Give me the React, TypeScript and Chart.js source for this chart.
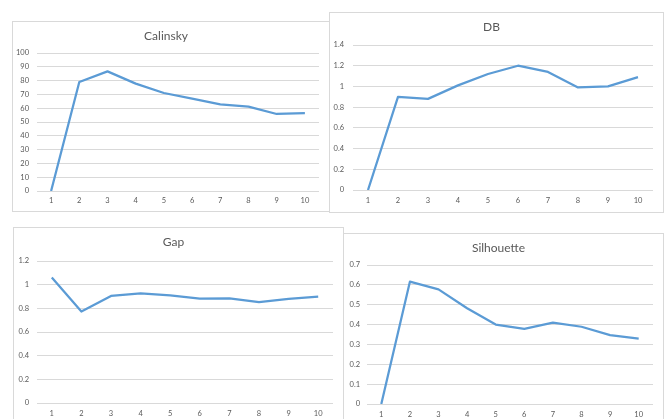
import React, { useEffect, useRef } from "react";
import { Chart, registerables } from "chart.js";

Chart.register(...registerables);

const categories = ["1", "2", "3", "4", "5", "6", "7", "8", "9", "10"];
const calinsky = [0, 79, 86.7, 77.8, 71, 67, 62.7, 61.2, 55.8, 56.4];
const db = [0, 0.9, 0.88, 1.01, 1.12, 1.2, 1.14, 0.99, 1.0, 1.09];
const gap = [1.06, 0.773, 0.905, 0.927, 0.91, 0.882, 0.885, 0.852, 0.88, 0.899];
const silhouette = [0, 0.616, 0.577, 0.482, 0.4, 0.378, 0.41, 0.389, 0.347, 0.329];

const titles = ["Calinsky", "DB", "Gap", "Silhouette"];
const yMax = [100, 1.4, 1.2, 0.7];
const yStep = [10, 0.2, 0.2, 0.1];
const seriesList = [calinsky, db, gap, silhouette];

const LINE = "#5B9BD5";
const GRID = "#D9D9D9";
const TEXT = "#595959";
const FONT = "Lato, 'Liberation Sans', sans-serif";
const TICK_SIZE = 7.5;
const TITLE_SIZE = 12;

type Layout = {
  box: { x: number; y: number; w: number; h: number };
  plot: { l: number; t: number; r: number; b: number };
  titleY: number;
  labelRight: number;
  xLabelY: number;
};

const layouts: Layout[] = [
  { box: { x: 12, y: 21, w: 318, h: 191 }, plot: { l: 37, t: 53, r: 319, b: 191 }, titleY: 36, labelRight: 29, xLabelY: 201 },
  { box: { x: 329, y: 12, w: 335, h: 201 }, plot: { l: 353, t: 45, r: 653, b: 190 }, titleY: 27, labelRight: 344, xLabelY: 201 },
  { box: { x: 13, y: 227, w: 331, h: 220 }, plot: { l: 37, t: 261, r: 333, b: 403 }, titleY: 242, labelRight: 29, xLabelY: 414 },
  { box: { x: 343, y: 233, w: 321, h: 220 }, plot: { l: 367, t: 265, r: 653, b: 404 }, titleY: 248, labelRight: 360, xLabelY: 415 },
];

function Panel({ idx }: { idx: number }) {
  const ref = useRef<HTMLCanvasElement | null>(null);
  const L = layouts[idx];
  const cx = L.box.x + 1;
  const cy = L.box.y + 1;
  const cw = L.box.w - 2;
  const ch = L.box.h - 2;

  useEffect(() => {
    if (!ref.current) return;
    const tickLH = TICK_SIZE * 1.2;
    const titleLH = TITLE_SIZE * 1.2;
    const xAxisH = 20;
    const padTop = L.titleY - cy - titleLH / 2;
    const padBottom = L.plot.t - cy - titleLH - padTop;
    const chart = new Chart(ref.current, {
      type: "line",
      data: {
        labels: categories,
        datasets: [
          {
            data: seriesList[idx],
            borderColor: LINE,
            borderWidth: 2.25,
            pointRadius: 0,
            tension: 0,
            fill: false,
            borderJoinStyle: "round",
          },
        ],
      },
      options: {
        responsive: false,
        animation: false,
        events: [],
        layout: {
          padding: {
            left: 0,
            top: 0,
            right: cw - (L.plot.r - cx),
            bottom: ch - xAxisH - (L.plot.b - cy),
          },
        },
        plugins: {
          legend: { display: false },
          tooltip: { enabled: false },
          title: {
            display: true,
            text: titles[idx],
            color: TEXT,
            font: { family: FONT, size: TITLE_SIZE, weight: "normal", lineHeight: 1.2 },
            padding: { top: padTop, bottom: padBottom },
          },
        },
        scales: {
          x: {
            type: "category",
            offset: true,
            grid: { display: false, drawTicks: false },
            border: { display: false },
            ticks: {
              color: TEXT,
              font: { family: FONT, size: TICK_SIZE, lineHeight: 1.2 },
              padding: L.xLabelY - L.plot.b - tickLH / 2,
              maxRotation: 0,
              autoSkip: false,
            },
            afterFit: (s: any) => {
              s.height = xAxisH;
            },
          },
          y: {
            min: 0,
            max: yMax[idx],
            grid: { color: GRID, lineWidth: 1, drawTicks: false },
            border: { display: false },
            ticks: {
              stepSize: yStep[idx],
              color: TEXT,
              font: { family: FONT, size: TICK_SIZE, lineHeight: 1.2 },
              padding: L.plot.l - L.labelRight,
              callback: (v: any) => String(Math.round(Number(v) * 100) / 100),
            },
            afterFit: (s: any) => {
              s.width = L.plot.l - cx;
            },
          },
        },
      },
    } as any);
    return () => chart.destroy();
  }, [idx]);

  return (
    <div
      style={{
        position: "absolute",
        left: L.box.x,
        top: L.box.y,
        width: L.box.w,
        height: L.box.h,
        border: `1px solid ${GRID}`,
        boxSizing: "border-box",
        background: "#fff",
      }}
    >
      <canvas ref={ref} width={cw} height={ch} style={{ display: "block", width: cw, height: ch }} />
    </div>
  );
}

export default function App() {
  return (
    <div
      style={{
        position: "absolute",
        left: 0,
        top: 0,
        width: 667,
        height: 419,
        overflow: "hidden",
        background: "#fff",
      }}
    >
      {[0, 1, 2, 3].map((i) => (
        <Panel key={i} idx={i} />
      ))}
    </div>
  );
}
